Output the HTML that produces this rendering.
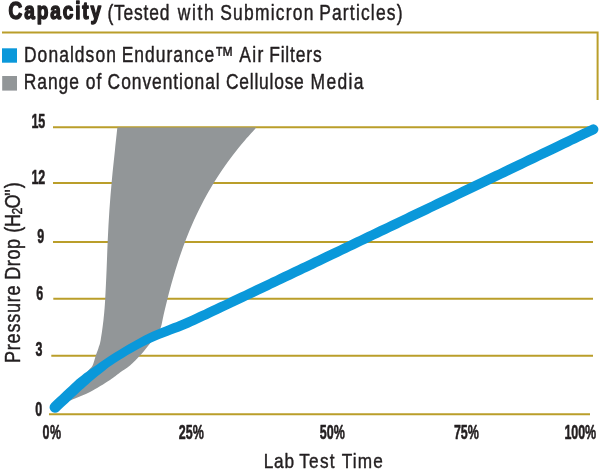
<!DOCTYPE html>
<html lang="en"><head><meta charset="utf-8"><title>Capacity</title>
<style>
html,body{margin:0;padding:0;background:#fff}
body{width:600px;height:470px;overflow:hidden}
svg{display:block;font-family:"Liberation Sans",sans-serif;fill:#231f20}
</style></head><body>
<svg width="600" height="470" viewBox="0 0 600 470">
<path d="M2 32.5 H597.6 V100" fill="none" stroke="#ba9e2a" stroke-width="2"/>
<line x1="53" y1="127.2" x2="593" y2="127.2" stroke="#ba9e2a" stroke-width="2"/>
<line x1="53" y1="183" x2="593" y2="183" stroke="#ba9e2a" stroke-width="2"/>
<line x1="53" y1="242" x2="593" y2="242" stroke="#ba9e2a" stroke-width="2"/>
<line x1="53.3" y1="298.7" x2="593" y2="298.7" stroke="#ba9e2a" stroke-width="2"/>
<line x1="51.3" y1="355.7" x2="593" y2="355.7" stroke="#ba9e2a" stroke-width="2"/>
<line x1="49" y1="414.3" x2="590" y2="414.3" stroke="#ba9e2a" stroke-width="2"/>
<path d="M60.00 404.50 C63.00 401.25 73.33 390.58 78.00 385.00 C82.67 379.42 85.57 374.25 88.00 371.00 C90.43 367.75 91.32 368.05 92.60 365.50 C93.88 362.95 94.72 358.62 95.70 355.70 C96.68 352.78 97.67 350.62 98.50 348.00 C99.33 345.38 99.86 344.67 100.69 340.00 C101.52 335.33 102.74 326.67 103.48 320.00 C104.23 313.33 104.64 308.33 105.16 300.00 C105.67 291.67 106.15 280.00 106.58 270.00 C107.01 260.00 107.27 250.00 107.74 240.00 C108.21 230.00 108.72 220.00 109.41 210.00 C110.09 200.00 110.94 190.00 111.87 180.00 C112.79 170.00 114.05 158.73 114.97 150.00 C115.88 141.27 116.96 131.33 117.35 127.60 L256.37 127.60 C254.51 129.67 249.08 135.43 245.18 140.00 C241.28 144.57 236.82 150.00 232.98 155.00 C229.13 160.00 225.53 165.00 222.11 170.00 C218.70 175.00 215.50 180.00 212.47 185.00 C209.44 190.00 207.00 194.17 203.94 200.00 C200.87 205.83 197.11 213.33 194.08 220.00 C191.04 226.67 188.30 233.33 185.72 240.00 C183.14 246.67 180.82 253.33 178.62 260.00 C176.42 266.67 174.43 273.33 172.52 280.00 C170.62 286.67 168.69 294.17 167.20 300.00 C165.72 305.83 164.68 310.37 163.59 315.00 C162.50 319.63 161.95 324.30 160.68 327.80 C159.42 331.30 157.78 333.38 156.00 336.00 C154.22 338.62 152.50 340.42 150.00 343.50 C147.50 346.58 144.33 350.83 141.00 354.50 C137.67 358.17 133.50 362.50 130.00 365.50 C126.50 368.50 123.33 370.08 120.00 372.50 C116.67 374.92 115.00 376.75 110.00 380.00 C105.00 383.25 95.83 388.92 90.00 392.00 C84.17 395.08 80.00 396.42 75.00 398.50 C70.00 400.58 62.50 403.50 60.00 404.50 Z" fill="#929698"/>
<path d="M51.14 403.39 L53.36 401.31 L56.55 398.32 L60.19 394.91 L63.76 391.56 L66.74 388.78 L69.53 386.17 L71.84 383.99 L74.03 381.96 L76.37 379.87 L78.91 377.70 L81.54 375.63 L84.18 373.61 L86.81 371.64 L89.43 369.74 L92.04 367.91 L94.63 366.13 L97.18 364.39 L99.47 362.79 L101.67 361.24 L104.26 359.50 L107.58 357.33 L110.98 355.12 L114.93 352.61 L119.21 349.94 L123.58 347.27 L127.80 344.79 L131.82 342.45 L135.85 340.16 L139.90 337.95 L143.95 335.82 L148.04 333.79 L152.22 331.86 L156.45 330.04 L160.60 328.34 L164.55 326.75 L168.21 325.25 L172.31 323.58 L176.03 322.14 L179.54 320.79 L183.10 319.33 L185.97 318.11 L188.27 317.10 L191.70 315.51 L197.90 312.62 L200.60 311.35 L203.66 309.92 L207.04 308.33 L210.69 306.61 L214.57 304.78 L218.62 302.87 L222.80 300.89 L227.06 298.88 L231.35 296.85 L235.63 294.83 L239.84 292.84 L243.94 290.89 L247.88 289.03 L251.59 287.27 L255.07 285.62 L258.39 284.04 L261.62 282.51 L264.83 280.98 L268.08 279.44 L271.45 277.83 L275.00 276.14 L278.80 274.33 L282.92 272.37 L287.42 270.22 L292.38 267.85 L297.87 265.23 L300.71 263.87 L303.69 262.45 L306.78 260.98 L309.99 259.44 L313.31 257.86 L316.73 256.22 L320.24 254.55 L323.83 252.83 L327.49 251.08 L331.23 249.29 L335.03 247.48 L338.88 245.64 L342.78 243.77 L346.71 241.89 L350.68 240.00 L354.66 238.09 L358.67 236.17 L362.68 234.26 L366.69 232.34 L370.69 230.42 L374.68 228.52 L378.65 226.62 L382.58 224.74 L386.48 222.88 L390.33 221.04 L394.13 219.22 L397.87 217.43 L401.57 215.66 L405.29 213.89 L409.01 212.11 L412.74 210.33 L416.47 208.54 L420.21 206.76 L423.95 204.97 L427.69 203.18 L431.44 201.39 L435.18 199.60 L438.92 197.82 L442.66 196.03 L446.40 194.24 L450.13 192.46 L453.86 190.68 L457.58 188.90 L461.30 187.12 L465.01 185.35 L468.70 183.58 L472.39 181.82 L476.07 180.06 L479.74 178.31 L483.39 176.56 L487.03 174.82 L490.66 173.08 L494.27 171.36 L497.86 169.64 L501.80 167.75 L505.84 165.81 L509.98 163.83 L514.20 161.81 L518.49 159.75 L522.82 157.68 L527.17 155.59 L531.54 153.49 L535.91 151.40 L540.25 149.31 L544.56 147.25 L548.81 145.21 L552.99 143.20 L557.08 141.24 L561.06 139.33 L564.93 137.47 L568.65 135.68 L572.22 133.97 L575.62 132.34 L578.83 130.80 L581.83 129.36 L584.62 128.02 L587.16 126.80 L589.44 125.70 L591.46 124.74 A4.95 4.95 0 0 1 595.74 133.66 L595.74 133.66 L593.73 134.63 L591.44 135.73 L588.90 136.95 L586.12 138.28 L583.11 139.72 L579.91 141.26 L576.51 142.89 L572.94 144.61 L569.21 146.40 L565.35 148.25 L561.36 150.16 L557.27 152.13 L553.09 154.13 L548.84 156.17 L544.53 158.24 L540.19 160.32 L535.83 162.42 L531.45 164.51 L527.10 166.60 L522.77 168.68 L518.48 170.73 L514.26 172.76 L510.12 174.74 L506.07 176.68 L502.14 178.56 L498.54 180.29 L494.93 182.01 L491.31 183.75 L487.67 185.49 L484.01 187.24 L480.34 188.99 L476.66 190.75 L472.97 192.52 L469.28 194.28 L465.57 196.06 L461.85 197.83 L458.13 199.61 L454.40 201.39 L450.67 203.18 L446.93 204.96 L443.19 206.75 L439.45 208.54 L435.70 210.33 L431.96 212.11 L428.22 213.90 L424.48 215.69 L420.74 217.47 L417.01 219.26 L413.28 221.04 L409.56 222.82 L405.84 224.59 L402.13 226.37 L398.40 228.15 L394.60 229.97 L390.75 231.81 L386.85 233.67 L382.92 235.55 L378.95 237.45 L374.96 239.36 L370.96 241.27 L366.95 243.19 L362.94 245.11 L358.94 247.02 L354.95 248.93 L350.98 250.82 L347.05 252.70 L343.15 254.57 L339.30 256.41 L335.50 258.22 L331.76 260.01 L328.10 261.76 L324.50 263.48 L321.00 265.16 L317.58 266.79 L314.26 268.38 L311.05 269.91 L307.95 271.39 L304.98 272.81 L302.13 274.17 L296.65 276.79 L291.69 279.15 L287.18 281.30 L283.06 283.27 L279.26 285.08 L275.71 286.77 L272.34 288.37 L269.08 289.92 L265.87 291.45 L262.64 292.98 L259.31 294.56 L255.83 296.21 L252.12 297.97 L248.18 299.84 L244.08 301.78 L239.86 303.78 L235.58 305.80 L231.29 307.83 L227.03 309.85 L222.85 311.82 L218.79 313.73 L214.91 315.56 L211.26 317.28 L207.87 318.88 L204.80 320.32 L202.10 321.58 L195.88 324.49 L192.36 326.12 L189.89 327.20 L186.90 328.47 L183.20 329.98 L179.59 331.38 L175.89 332.79 L171.79 334.35 L168.09 335.76 L164.12 337.26 L160.03 338.83 L155.94 340.48 L151.96 342.21 L148.05 344.05 L144.10 346.01 L140.15 348.07 L136.18 350.21 L132.20 352.41 L128.10 354.82 L123.83 357.42 L119.63 360.05 L115.74 362.53 L112.42 364.67 L109.34 366.81 L107.08 368.57 L105.06 370.21 L102.82 372.01 L100.37 373.94 L97.96 375.85 L95.57 377.78 L93.19 379.76 L90.80 381.80 L88.40 383.91 L86.02 386.04 L83.63 388.13 L81.44 390.10 L79.36 392.02 L77.06 394.19 L74.26 396.82 L71.28 399.60 L67.71 402.94 L64.07 406.35 L60.88 409.34 L58.66 411.41 A5.50 5.50 0 0 1 51.14 403.39 Z" fill="#0a98da"/>
<rect x="2" y="48.3" width="15" height="14.4" fill="#0a98da"/>
<rect x="2.2" y="76" width="14.8" height="14.6" fill="#929698"/>
<text transform="scale(0.8000,1)" y="19.1" font-size="23.8" font-weight="bold" stroke="#231f20" stroke-width="1.5" stroke-linejoin="round" ><tspan x="10.71" letter-spacing="2.37">Capacity</tspan></text>
<text transform="scale(0.8200,1)" y="19.6" font-size="21.3" stroke="#231f20" stroke-width="0.45" stroke-linejoin="round" ><tspan x="130.98" letter-spacing="0.96">(Tested</tspan> <tspan x="216.72" letter-spacing="2.06">with</tspan> <tspan x="268.53" letter-spacing="1.49">Submicron</tspan> <tspan x="389.21" letter-spacing="1.44">Particles)</tspan></text>
<text transform="scale(0.8200,1)" y="62" font-size="21.3" stroke="#231f20" stroke-width="0.45" stroke-linejoin="round" ><tspan x="29.21" letter-spacing="1.29">Donaldson</tspan> <tspan x="148.36" letter-spacing="1.25">Endurance</tspan><tspan x="261.61" letter-spacing="0.00" font-size="23.50" dy="0.6">™</tspan> <tspan x="291.65" letter-spacing="1.77" dy="-0.6">Air</tspan> <tspan x="328.23" letter-spacing="1.02">Filters</tspan></text>
<text transform="scale(0.8200,1)" y="89.1" font-size="21.3" stroke="#231f20" stroke-width="0.45" stroke-linejoin="round" ><tspan x="28.97" letter-spacing="1.12">Range</tspan> <tspan x="104.51" letter-spacing="1.49">of</tspan> <tspan x="131.22" letter-spacing="1.13">Conventional</tspan> <tspan x="275.61" letter-spacing="0.92">Cellulose</tspan> <tspan x="378.60" letter-spacing="1.69">Media</tspan></text>
<text transform="scale(0.6400,1)" y="128.1" font-size="19.5" font-weight="bold" stroke="#231f20" stroke-width="0.55" stroke-linejoin="round" ><tspan x="49.05" letter-spacing="-0.16">15</tspan></text>
<text transform="scale(0.6400,1)" y="184" font-size="19.5" font-weight="bold" stroke="#231f20" stroke-width="0.55" stroke-linejoin="round" ><tspan x="49.05" letter-spacing="0.08">12</tspan></text>
<text transform="scale(0.6400,1)" y="242.8" font-size="19.5" font-weight="bold" stroke="#231f20" stroke-width="0.55" stroke-linejoin="round" ><tspan x="58.35" letter-spacing="0.00">9</tspan></text>
<text transform="scale(0.6400,1)" y="299.7" font-size="19.5" font-weight="bold" stroke="#231f20" stroke-width="0.55" stroke-linejoin="round" ><tspan x="56.84" letter-spacing="0.00">6</tspan></text>
<text transform="scale(0.6400,1)" y="356.5" font-size="19.5" font-weight="bold" stroke="#231f20" stroke-width="0.55" stroke-linejoin="round" ><tspan x="55.33" letter-spacing="0.00">3</tspan></text>
<text transform="scale(0.6400,1)" y="416" font-size="19.5" font-weight="bold" stroke="#231f20" stroke-width="0.55" stroke-linejoin="round" ><tspan x="54.90" letter-spacing="0.00">0</tspan></text>
<text transform="scale(0.6400,1)" y="439.5" font-size="19.5" font-weight="bold" stroke="#231f20" stroke-width="0.55" stroke-linejoin="round" ><tspan x="66.38" letter-spacing="0.99">0%</tspan></text>
<text transform="scale(0.6400,1)" y="439.5" font-size="19.5" font-weight="bold" stroke="#231f20" stroke-width="0.55" stroke-linejoin="round" ><tspan x="279.29" letter-spacing="0.10">25%</tspan></text>
<text transform="scale(0.6400,1)" y="439.5" font-size="19.5" font-weight="bold" stroke="#231f20" stroke-width="0.55" stroke-linejoin="round" ><tspan x="499.52" letter-spacing="0.14">50%</tspan></text>
<text transform="scale(0.6400,1)" y="439.5" font-size="19.5" font-weight="bold" stroke="#231f20" stroke-width="0.55" stroke-linejoin="round" ><tspan x="709.28" letter-spacing="-0.05">75%</tspan></text>
<text transform="scale(0.6400,1)" y="439.5" font-size="19.5" font-weight="bold" stroke="#231f20" stroke-width="0.55" stroke-linejoin="round" ><tspan x="881.86" letter-spacing="-0.08">100%</tspan></text>
<text transform="scale(0.8200,1)" y="467.9" font-size="21" stroke="#231f20" stroke-width="0.45" stroke-linejoin="round" ><tspan x="321.67" letter-spacing="0.94">Lab</tspan> <tspan x="365.00" letter-spacing="1.49">Test</tspan> <tspan x="416.83" letter-spacing="1.43">Time</tspan></text>
<g transform="translate(20.2,361.7) rotate(-90)"><text transform="scale(0.8200,1)" y="0" font-size="22" stroke="#231f20" stroke-width="0.45" stroke-linejoin="round" ><tspan x="-1.58" letter-spacing="0.95">Pressure</tspan> <tspan x="99.88" letter-spacing="0.76">Drop</tspan> <tspan x="157.18" letter-spacing="0.00">(</tspan><tspan x="164.25" letter-spacing="0.00">H</tspan><tspan x="179.44" letter-spacing="0.00" font-size="14.96" dy="2.2">2</tspan><tspan x="186.82" letter-spacing="0.00" dy="-2.2">O</tspan><tspan x="202.44" letter-spacing="0.00">"</tspan><tspan x="211.53" letter-spacing="0.00">)</tspan></text></g>
</svg>
</body></html>
